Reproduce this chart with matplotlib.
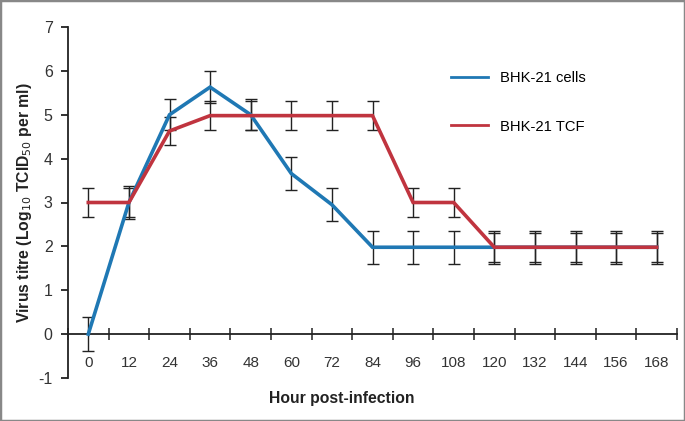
import matplotlib
matplotlib.use("Agg")
import matplotlib.pyplot as plt
from matplotlib.patches import Rectangle
from matplotlib.lines import Line2D
import numpy as np

plt.rcParams['font.family'] = ['Liberation Sans', 'DejaVu Sans']
plt.rcParams['axes.unicode_minus'] = False

hours = ['0', '12', '24', '36', '48', '60', '72', '84', '96', '108', '120', '132', '144', '156', '168']
cells = [0, 3, 5, 5.63, 5.0, 3.66, 2.95, 1.98, 1.98, 1.98, 1.98, 1.98, 1.98, 1.98, 1.98]
cells_err = [0.38, 0.38, 0.35, 0.37, 0.35, 0.37, 0.38, 0.38, 0.38, 0.38, 0.38, 0.38, 0.38, 0.38, 0.38]
tcf = [3, 3, 4.63, 4.98, 4.98, 4.98, 4.98, 4.98, 3.0, 3.0, 1.98, 1.98, 1.98, 1.98, 1.98]
tcf_err = [0.33, 0.33, 0.33, 0.33, 0.33, 0.33, 0.33, 0.33, 0.33, 0.33, 0.33, 0.33, 0.33, 0.33, 0.33]

blue = '#1f78b4'
red = '#c0343f'

fig = plt.figure(figsize=(6.85, 4.21), dpi=100)
ax = fig.add_axes([68/685, 43/421, (677-68)/685, (394-43)/421])

x = np.arange(len(hours))
ax.errorbar(x, cells, yerr=cells_err, fmt='none', ecolor='#222222', elinewidth=1.0, capsize=4.5, capthick=1.0, zorder=2)
ax.errorbar(x, tcf, yerr=tcf_err, fmt='none', ecolor='#222222', elinewidth=1.0, capsize=4.5, capthick=1.0, zorder=2)
ax.plot(x, cells, color=blue, lw=2.6, zorder=3, solid_joinstyle='miter')
ax.plot(x, tcf, color=red, lw=2.6, zorder=4, solid_joinstyle='miter')

ax.set_xlim(-0.5, len(hours) - 0.5)
ax.set_ylim(-1, 7)
for s in ['top', 'right']:
    ax.spines[s].set_visible(False)
ax.spines['bottom'].set_position(('data', 0))
ax.spines['left'].set_color('#222222')
ax.spines['bottom'].set_color('#222222')
ax.spines['left'].set_linewidth(1.3)
ax.spines['bottom'].set_linewidth(1.3)

ax.set_xticks(x)
ax.set_xticklabels(hours, fontsize=11, color='#333333')
ax.set_xticks(np.arange(-0.5, len(hours)), minor=True)
ax.tick_params(axis='x', which='major', length=0, pad=16)
ax.tick_params(axis='x', which='minor', length=8, direction='inout', width=1.1, color='#222222')
ax.set_yticks(range(-1, 8))
ax.tick_params(axis='y', length=5, width=1.3, direction='out', labelsize=11.5, labelcolor='#333333', color='#222222', pad=6)

ax.set_ylabel('Virus titre (Log$_{10}$ TCID$_{50}$ per ml)', fontsize=11.3, fontweight='bold', color='#222222', labelpad=3)
fig.text(342/685, 1 - 398/421, 'Hour post-infection', ha='center', va='center', fontsize=11.3, fontweight='bold', color='#222222')

handles = [Line2D([], [], color=blue, lw=2), Line2D([], [], color=red, lw=2)]
fig.legend(handles, ['BHK-21 cells', 'BHK-21 TCF'], loc='upper left',
           bbox_to_anchor=(451/685, 1 - 71/421), frameon=False, fontsize=10.6,
           handlelength=2.5, handletextpad=0.85, labelspacing=2.35, borderpad=0, borderaxespad=0)

fig.patches.append(Rectangle((0, 0), 1, 1, transform=fig.transFigure, fill=False,
                             edgecolor='#888888', lw=2.5))

fig.savefig('out.png', dpi=100)
